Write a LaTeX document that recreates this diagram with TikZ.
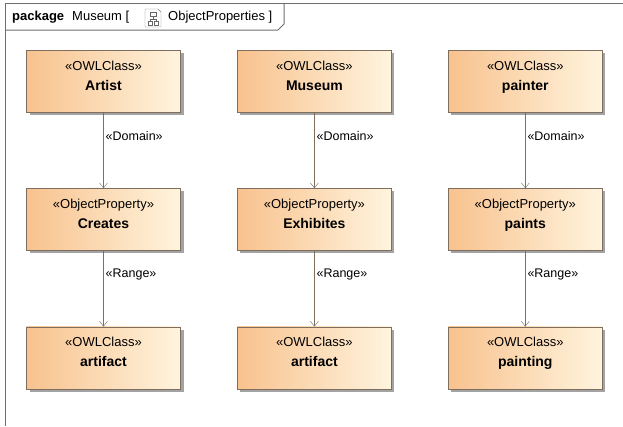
\documentclass[tikz,border=0pt]{standalone}
\usepackage{fontspec}
\setmainfont{Liberation Sans}
\usepackage{xcolor}
\usetikzlibrary{arrows.meta,positioning,shadows}
\definecolor{boxleft}{HTML}{F8C28E}
\definecolor{boxright}{HTML}{FFF4DE}
\definecolor{boxline}{HTML}{7D6E5E}
\definecolor{frameline}{HTML}{6E6E6E}
\tikzset{
    x=1pt,y=-1pt,
    -{Straight Barb[length=5pt,width=8pt]},node distance =76pt and 56.5pt,thin,
    owl/.style ={rectangle, draw=boxline, minimum width = 154pt, minimum height = 62pt,
        left color=boxleft, right color=boxright, align=center, inner sep=0pt,
        font=\fontsize{13}{20}\selectfont, text height=30pt, text depth=12pt,
        drop shadow={shadow xshift=3pt, shadow yshift=-3pt, fill=black!45, opacity=0.8}},
    el/.style = {right, inner sep=2pt, font=\fontsize{12.5}{14}\selectfont, pos=0.32},
    tabtext/.style = {anchor=base west, inner sep=0pt, font=\fontsize{13}{15}\selectfont}
}
\newcommand{\nm}[1]{\textbf{\fontsize{14}{20}\selectfont #1}}

\begin{document}
\begin{tikzpicture}
    \useasboundingbox (0,0) rectangle (623,426);
    % package frame and tab
    \draw[-, frameline, line width=1pt] (5,426) -- (5,3) -- (623,3);
    \draw[-, frameline, line width=1pt] (5,30) -- (278,30) -- (284,24) -- (284,3);
    \node[tabtext] (pkg) at (12,20.5) {\textbf{package}};
    \node[tabtext] (name) at (72,20.5) {Museum [};
    \node[tabtext] (diag) at (168,20.5) {ObjectProperties ]};
    % diagram icon
    \draw[-, gray, fill=white] (145,9) -- (158,9) -- (161,12) -- (161,27) -- (145,27) -- cycle;
    \draw[-, gray!80!black] (150,12) rectangle (156,16) (148,21) rectangle (152,25) (154,21) rectangle (158,25)
        (153,16) -- (153,19) (150,19) -- (156,19) (150,19) -- (150,21) (156,19) -- (156,21);

    % classes and properties
    \node[owl] (artist) at (103.5,81) {«OWLClass»\\\nm{Artist}};
    \node[owl] (museum) [right =of artist] {«OWLClass»\\\nm{Museum}};
    \node[owl] (painter) [right =of museum] {«OWLClass»\\\nm{painter}};
    \node[owl] (creates) [below =of artist] {«ObjectProperty»\\\nm{Creates}};
    \node[owl] (exhibites) [below =of museum] {«ObjectProperty»\\\nm{Exhibites}};
    \node[owl] (paints) [below =of painter] {«ObjectProperty»\\\nm{paints}};
    \node[owl] (artifact1) [below =of creates] {«OWLClass»\\\nm{artifact}};
    \node[owl] (artifact2) [below =of exhibites] {«OWLClass»\\\nm{artifact}};
    \node[owl] (painting) [below =of paints] {«OWLClass»\\\nm{painting}};

    \path[draw=boxline] (artist) edge node[el] {«Domain»} (creates);
    \path[draw=boxline] (museum) edge node[el] {«Domain»} (exhibites);
    \path[draw=boxline] (painter) edge node[el] {«Domain»} (paints);
    \path[draw=boxline] (creates) edge node[el] {«Range»} (artifact1);
    \path[draw=boxline] (exhibites) edge node[el] {«Range»} (artifact2);
    \path[draw=boxline] (paints) edge node[el] {«Range»} (painting);
\end{tikzpicture}
\end{document}
